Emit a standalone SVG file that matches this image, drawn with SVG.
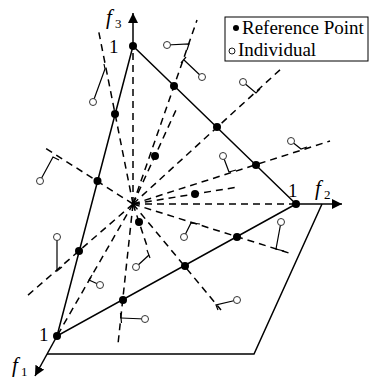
<svg xmlns="http://www.w3.org/2000/svg" width="369" height="380" viewBox="0 0 369 380">
<defs>
<style>
.solid{stroke:#000;stroke-width:1.5;fill:none}
.dash{stroke:#000;stroke-width:1.5;fill:none;stroke-dasharray:7,5}
.conn{stroke:#000;stroke-width:1.2;fill:none}
.ref{fill:#000}
.ind{fill:#fff;stroke:#333;stroke-width:1}
.t{font-family:"Liberation Serif","Times New Roman",serif;fill:#000}
.it{font-style:italic}
</style>
<marker id="arr" viewBox="0 0 10 10" refX="10" refY="5" markerWidth="10" markerHeight="10" markerUnits="userSpaceOnUse" orient="auto">
<path d="M0,0 L10,5 L0,10 Z" fill="#000"/>
</marker>
</defs>
<rect width="369" height="380" fill="#fff"/>
<g id="connectors">
<line class="solid" x1="133" y1="46" x2="133" y2="13" marker-end="url(#arr)"/>
<line class="solid" x1="296" y1="204" x2="342" y2="204" marker-end="url(#arr)"/>
<line class="solid" x1="57" y1="336" x2="35" y2="376" marker-end="url(#arr)"/>
<polygon class="solid" points="133,46 296,204 57,336"/>
<polyline class="solid" points="47,354 254,354 322,204"/>
<line class="dash" x1="133" y1="204" x2="133" y2="46"/>
<line class="dash" x1="133" y1="204" x2="296" y2="204"/>
<line class="dash" x1="133" y1="204" x2="57" y2="336"/>
<line class="dash" x1="133" y1="204" x2="197" y2="20"/>
<line class="dash" x1="133" y1="204" x2="98" y2="28"/>
<line class="dash" x1="133" y1="204" x2="42" y2="146"/>
<line class="dash" x1="133" y1="204" x2="27" y2="296"/>
<line class="dash" x1="133" y1="204" x2="118" y2="344"/>
<line class="dash" x1="133" y1="204" x2="221" y2="310"/>
<line class="dash" x1="133" y1="204" x2="289" y2="253"/>
<line class="dash" x1="133" y1="204" x2="330" y2="141"/>
<line class="dash" x1="133" y1="204" x2="282" y2="68"/>
<line class="dash" x1="133" y1="204" x2="176" y2="110"/>
<line class="dash" x1="133" y1="204" x2="238" y2="187"/>
<line class="dash" x1="133" y1="204" x2="148" y2="249"/>
<polyline class="conn" points="167,45 189,44 187,50"/>
<polyline class="conn" points="202,77 184,60"/>
<line class="conn" x1="181" y1="63" x2="186" y2="57"/>
<polyline class="conn" points="93,102 105,69 104,64"/>
<polyline class="conn" points="40,181 53,157 59,160"/>
<polyline class="conn" points="57,237 57,271 62,267"/>
<polyline class="conn" points="100,285 89,280 92,275"/>
<line class="conn" x1="145" y1="319" x2="121" y2="318"/>
<line class="conn" x1="120.5" y1="313" x2="121.5" y2="323"/>
<polyline class="conn" points="136,267 149,255"/>
<line class="conn" x1="147" y1="250" x2="150" y2="258"/>
<polyline class="conn" points="184,237 191,223 200,224"/>
<polyline class="conn" points="281,222 276,249 284,251"/>
<polyline class="conn" points="237,300 216,305 218,310"/>
<polyline class="conn" points="223,156 229,172 236,170"/>
<polyline class="conn" points="291,141 301,149 307,147"/>
<polyline class="conn" points="243,82 256,93 260,89"/>
</g>
<g id="reference-points">
<circle class="ref" cx="133" cy="46" r="4"/>
<circle class="ref" cx="296" cy="204" r="4"/>
<circle class="ref" cx="57" cy="336" r="4"/>
<circle class="ref" cx="174" cy="86" r="4"/>
<circle class="ref" cx="217" cy="127" r="4"/>
<circle class="ref" cx="256" cy="165" r="4"/>
<circle class="ref" cx="115" cy="114" r="4"/>
<circle class="ref" cx="97.5" cy="181" r="4"/>
<circle class="ref" cx="79" cy="251" r="4"/>
<circle class="ref" cx="123" cy="300" r="4"/>
<circle class="ref" cx="185" cy="266" r="4"/>
<circle class="ref" cx="237" cy="237" r="4"/>
<circle class="ref" cx="155" cy="156" r="4"/>
<circle class="ref" cx="195" cy="194" r="4"/>
<circle class="ref" cx="139" cy="222" r="4"/>
</g>
<g id="individuals">
<circle class="ind" cx="167" cy="45" r="3.5"/>
<circle class="ind" cx="202" cy="77" r="3.5"/>
<circle class="ind" cx="93" cy="102" r="3.5"/>
<circle class="ind" cx="40" cy="181" r="3.5"/>
<circle class="ind" cx="57" cy="237" r="3.5"/>
<circle class="ind" cx="100" cy="285" r="3.5"/>
<circle class="ind" cx="145" cy="319" r="3.5"/>
<circle class="ind" cx="136" cy="267" r="3.5"/>
<circle class="ind" cx="184" cy="237" r="3.5"/>
<circle class="ind" cx="281" cy="222" r="3.5"/>
<circle class="ind" cx="237" cy="300" r="3.5"/>
<circle class="ind" cx="223" cy="156" r="3.5"/>
<circle class="ind" cx="291" cy="141" r="3.5"/>
<circle class="ind" cx="243" cy="82" r="3.5"/>
</g>
<g id="axis-labels">
<text class="t it" x="106" y="24" font-size="21">f</text>
<text class="t" x="115" y="28" font-size="13">3</text>
<text class="t" x="109" y="53" font-size="19">1</text>
<text class="t it" x="315" y="195" font-size="21">f</text>
<text class="t" x="324" y="199" font-size="13">2</text>
<text class="t" x="288" y="197" font-size="19">1</text>
<text class="t it" x="12" y="372" font-size="21">f</text>
<text class="t" x="21" y="376" font-size="13">1</text>
<text class="t" x="39" y="341" font-size="19">1</text>
</g>
<g id="legend">
<rect x="225" y="17" width="143" height="44" fill="#fff" stroke="#000" stroke-width="1"/>
<circle cx="236" cy="28" r="3" fill="#000"/>
<text class="t" x="242" y="34" font-size="19">Reference Point</text>
<circle cx="232" cy="51" r="3" fill="#fff" stroke="#000" stroke-width="0.9"/>
<text class="t" x="238" y="56" font-size="19">Individual</text>
</g>
</svg>
